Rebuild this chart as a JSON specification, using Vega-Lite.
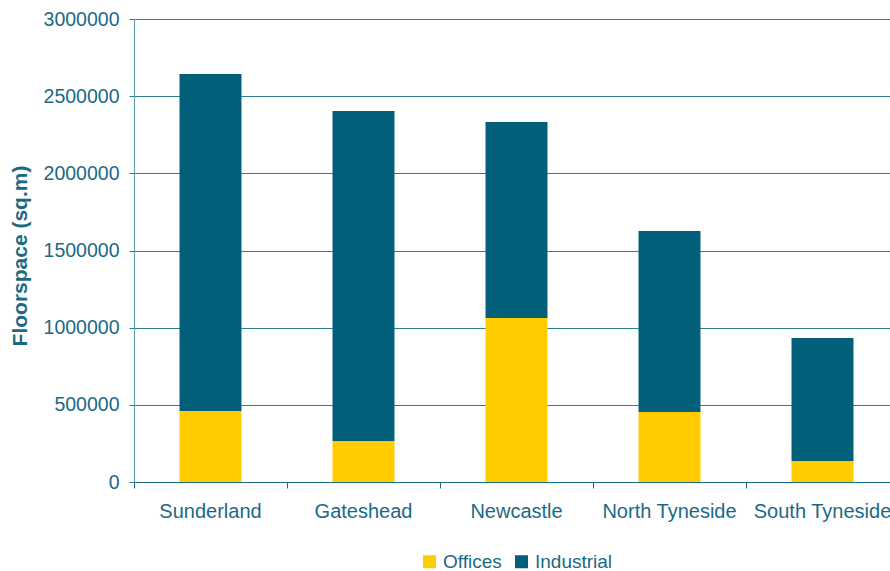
{
  "$schema": "https://vega.github.io/schema/vega-lite/v6.json",
  "autosize": "none",
  "width": 765,
  "height": 463,
  "padding": {"left": 134, "top": 19, "right": 0, "bottom": 89},
  "background": "white",
  "data": {
    "values": [
      {"area": "Sunderland", "type": "Offices", "value": 460000},
      {"area": "Sunderland", "type": "Industrial", "value": 2184000},
      {"area": "Gateshead", "type": "Offices", "value": 266000},
      {"area": "Gateshead", "type": "Industrial", "value": 2138000},
      {"area": "Newcastle", "type": "Offices", "value": 1063000},
      {"area": "Newcastle", "type": "Industrial", "value": 1270000},
      {"area": "North Tyneside", "type": "Offices", "value": 454000},
      {"area": "North Tyneside", "type": "Industrial", "value": 1172000},
      {"area": "South Tyneside", "type": "Offices", "value": 136000},
      {"area": "South Tyneside", "type": "Industrial", "value": 797000}
    ]
  },
  "config": {
    "view": {"stroke": null},
    "font": "Liberation Sans",
    "axis": {"labelColor": "#1B6A84", "titleColor": "#1B6A84", "labelFont": "Liberation Sans", "titleFont": "Liberation Sans"}
  },
  "mark": {"type": "bar", "width": {"band": 0.405}},
  "encoding": {
    "x": {
      "field": "area", "type": "nominal",
      "sort": ["Sunderland", "Gateshead", "Newcastle", "North Tyneside", "South Tyneside"],
      "scale": {"paddingInner": 0, "paddingOuter": 0},
      "axis": {
        "title": null, "labelAngle": 0, "labelFontSize": 20, "labelPadding": 13,
        "domainColor": "#1B6A84", "tickColor": "#1B6A84", "tickSize": 6, "bandPosition": 0,
        "labelBaseline": "top"
      }
    },
    "y": {
      "field": "value", "type": "quantitative", "aggregate": "sum",
      "stack": "zero",
      "scale": {"domain": [0, 3000000], "nice": false},
      "axis": {
        "title": "Floorspace (sq.m)", "titleFontSize": 21, "titleFontWeight": "bold",
        "titleX": -114, "titleY": 236.5, "titleBaseline": "middle", "titleAngle": 270, "titleAlign": "center",
        "values": [0, 500000, 1000000, 1500000, 2000000, 2500000, 3000000],
        "format": "d", "labelFontSize": 19.5, "labelPadding": 10,
        "gridColor": "#2E7D93", "gridOpacity": 1, "gridWidth": 1,
        "domainColor": "#5A9AAE", "tickColor": "#2E7D93", "tickSize": 5
      }
    },
    "color": {
      "field": "type", "type": "nominal",
      "scale": {"domain": ["Offices", "Industrial"], "range": ["#FFCC00", "#015F79"]},
      "legend": {
        "title": null, "orient": "none", "legendX": 286, "legendY": 533, "direction": "horizontal",
        "symbolType": "square", "symbolSize": 169, "symbolStrokeWidth": 0, "labelFontSize": 19,
        "labelColor": "#1B6A84", "labelFont": "Liberation Sans", "columnPadding": 10, "labelOffset": 4
      }
    },
    "order": {"field": "type", "sort": "descending"}
  }
}
